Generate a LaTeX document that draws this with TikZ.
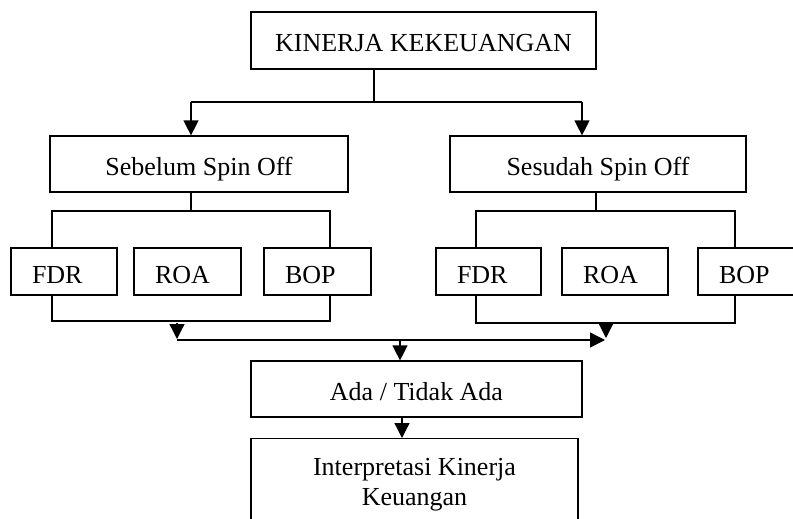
\documentclass[tikz,border=0pt]{standalone}
\usepackage{fontspec}
\setmainfont{Liberation Serif}
\usetikzlibrary{arrows.meta,calc}
\begin{document}
\begin{tikzpicture}[x=1pt,y=-1pt,
  every node/.style={font=\fontsize{26}{30}\selectfont},
  box/.style={draw,line width=1.2pt,rectangle,inner sep=0pt,text height=23pt,text depth=0pt},
  smallbox/.style={box,minimum height=47pt,inner xsep=21pt,align=left},
  conn/.style={line width=1.3pt},
  arr/.style={conn,-{Triangle[length=15pt,width=15pt]}}]
\useasboundingbox (0,0) rectangle (793,519);
\clip (0,0) rectangle (793,519);

% boxes
\node[box,minimum width=345pt,minimum height=57pt] (kin) at (423.5,40.5) {KINERJA KEKEUANGAN};
\node[box,minimum width=298pt,minimum height=56pt] (seb) at (199,164) {Sebelum Spin Off};
\node[box,minimum width=296pt,minimum height=56pt] (ses) at (598,164) {Sesudah Spin Off};

\node[smallbox,text width=64pt] (fdrA) at (64,271.5) {FDR};
\node[smallbox,text width=65pt] (roaA) at (187.5,271.5) {ROA};
\node[smallbox,text width=65pt] (bopA) at (317.5,271.5) {BOP};
\node[smallbox,text width=63pt] (fdrB) at (488.5,271.5) {FDR};
\node[smallbox,text width=64pt] (roaB) at (615,271.5) {ROA};
\node[smallbox,text width=65pt] (bopB) at (751.5,271.5) {BOP};

\node[box,minimum width=331pt,minimum height=56pt] (ada) at (416.5,389) {Ada / Tidak Ada};
\node[draw,line width=1.2pt,rectangle,inner sep=0pt,minimum width=327pt,minimum height=120pt,anchor=north] (interp) at (414.5,438) {};
\node[align=center,inner sep=0pt] (interptext) at (414.5,485) {Interpretasi Kinerja\\Keuangan};

% junction coordinates
\coordinate (jtop) at (374,102);
\coordinate (aL) at (191,102);
\coordinate (aR) at (582,102);
\coordinate (lL) at (191,211);
\coordinate (l1) at (52,211);
\coordinate (l2) at (330,211);
\coordinate (b1) at (52,321);
\coordinate (b2) at (330,321);
\coordinate (rL) at (596,211);
\coordinate (r1) at (476,211);
\coordinate (r2) at (735,211);
\coordinate (s1) at (476,323);
\coordinate (s2) at (735,323);
\coordinate (h1a) at (177,323);
\coordinate (h1b) at (177,339);
\coordinate (h2a) at (606,323);
\coordinate (h2b) at (606,338);
\coordinate (m1) at (177,340);
\coordinate (m2) at (605,340);
\coordinate (m3) at (400,340);
\coordinate (d1) at (402,428);

% connectors
\draw[conn] (kin.south -| jtop) -- (jtop);
\draw[conn] (aL) -- (aR);
\draw[arr] (aL) -- (aL |- seb.north);
\draw[arr] (aR) -- (aR |- ses.north);

\draw[conn] (seb.south -| lL) -- (lL);
\draw[conn] (fdrA.north -| l1) -- (l1) -- (l2) -- (bopA.north -| l2);
\draw[conn] (fdrA.south -| b1) -- (b1) -- (b2) -- (bopA.south -| b2);

\draw[conn] (ses.south -| rL) -- (rL);
\draw[conn] (fdrB.north -| r1) -- (r1) -- (r2) -- (bopB.north -| r2);
\draw[conn] (fdrB.south -| s1) -- (s1) -- (s2) -- (bopB.south -| s2);

\draw[arr] (h1a) -- (h1b);
\draw[arr] (h2a) -- (h2b);
\draw[arr] (m1) -- (m2);
\draw[arr] (m3) -- (m3 |- ada.north);
\draw[arr] (ada.south -| d1) -- (interp.north -| d1);
\end{tikzpicture}
\end{document}
